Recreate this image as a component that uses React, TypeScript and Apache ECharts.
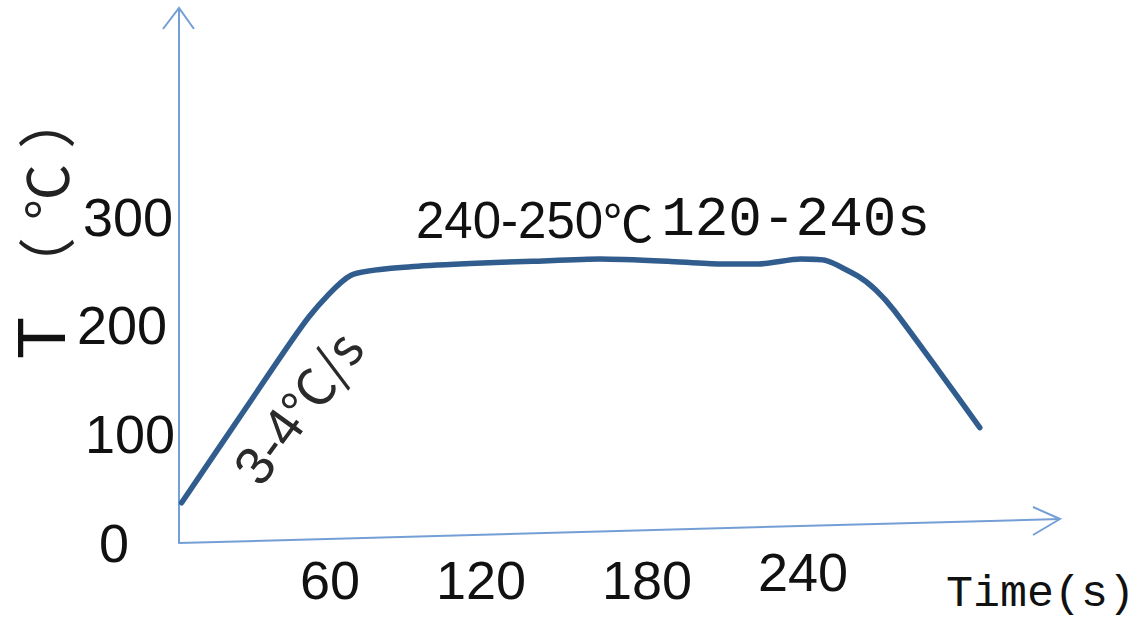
import React, { useEffect, useRef } from "react";
import * as echarts from "echarts";

// ---- data ----
const timeS = [1, 26, 50, 66, 89, 112, 136, 162, 188, 208, 223, 239, 249, 261, 268, 275, 292, 308];
const tempC = [37, 125, 208, 246, 254, 257, 259, 261, 259, 256.5, 256.5, 261, 259.5, 245.5, 232.6, 214, 159, 106];
const xTickLabels = [60, 120, 180, 240];
const yTickLabels = [0, 100, 200, 300];
const xMax = 340;
const yMax = 490;
const yTitleT = "T";
const yTitleOpen = "（";
const yTitleUnit = "℃";
const yTitleClose = "）";
const xTitle = "Time(s)";
const plateauTemp = "240-250";
const plateauUnit = "℃";
const plateauTime = "120-240s";
const rampA = "3-4";
const rampB = "℃/s";

// ---- layout / style ----
const W = 1146;
const H = 618;
const GRID = { left: 179, right: 83, top: 10, bottom: 75 };
const AXIS_COLOR = "#749fd6";
const LINE_COLOR = "#315c8e";
const SANS = "'Liberation Sans', Arial, sans-serif";
const CJK = "'Noto Sans CJK SC', 'Noto Sans CJK JP', sans-serif";
const MONO = "'Liberation Mono', monospace";

// per-label nudges (hand-placed labels in the original)
const yLabelPadRight: Record<number, number> = { 0: 46, 100: 0, 200: 8, 300: 2 };
const xLabelPadRight: Record<number, number> = { 60: 10, 120: 20, 180: 0, 240: 0 };
const xLabelLineHeight: Record<number, number> = { 60: 54, 120: 54, 180: 54, 240: 38 };

function rotatedText(text: string, x: number, y: number, fontFamily: string, fontSize: number, fill: string) {
  return {
    type: "text",
    x,
    y,
    rotation: Math.PI / 2,
    style: { text, fontFamily, fontSize, fill, align: "center", verticalAlign: "middle" },
  };
}

export default function App() {
  const ref = useRef<HTMLDivElement>(null);

  useEffect(() => {
    if (!ref.current) return;
    const chart = echarts.init(ref.current, undefined, { renderer: "svg" });

    const originX = GRID.left;
    const originY = H - GRID.bottom;
    const xEndX = 1060;
    const xEndY = 519;
    const yTopY = 8;

    const yRich: Record<string, any> = {};
    yTickLabels.forEach((v) => {
      yRich["y" + v] = {
        fontFamily: SANS,
        fontSize: 54,
        color: "#111",
        padding: [0, yLabelPadRight[v], 0, 0],
      };
    });
    const xRich: Record<string, any> = {};
    xTickLabels.forEach((v) => {
      xRich["x" + v] = {
        fontFamily: SANS,
        fontSize: 54,
        color: "#111",
        lineHeight: xLabelLineHeight[v],
        padding: [0, xLabelPadRight[v], 0, 0],
      };
    });

    chart.setOption({
      animation: false,
      backgroundColor: "#ffffff",
      grid: { ...GRID, containLabel: false },
      xAxis: {
        type: "value",
        min: 0,
        max: xMax,
        interval: 60,
        axisLine: { show: false },
        axisTick: { show: false },
        splitLine: { show: false },
        axisLabel: {
          margin: 10,
          showMaxLabel: false,
          formatter: (v: number) => (xTickLabels.includes(v) ? `{x${v}|${v}}` : ""),
          rich: xRich,
        },
      },
      yAxis: {
        type: "value",
        min: 0,
        max: yMax,
        interval: 100,
        axisLine: { show: true, lineStyle: { color: AXIS_COLOR, width: 2 } },
        axisTick: { show: false },
        splitLine: { show: false },
        axisLabel: {
          margin: 4,
          showMaxLabel: false,
          formatter: (v: number) => (yTickLabels.includes(v) ? `{y${v}|${v}}` : ""),
          rich: yRich,
        },
      },
      series: [
        {
          type: "line",
          data: timeS.map((t, i) => [t, tempC[i]]),
          smooth: 0.22,
          symbol: "none",
          lineStyle: { color: LINE_COLOR, width: 5.5, cap: "round", join: "round" },
        },
      ],
      graphic: [
        // y-axis arrow head
        {
          type: "polyline",
          shape: { points: [[originX - 16, yTopY + 21], [originX, yTopY], [originX + 15, yTopY + 21]] },
          style: { stroke: AXIS_COLOR, lineWidth: 2, fill: null },
        },
        // x axis (slightly slanted in the original)
        {
          type: "line",
          shape: { x1: originX, y1: originY, x2: xEndX, y2: xEndY },
          style: { stroke: AXIS_COLOR, lineWidth: 2 },
        },
        {
          type: "polyline",
          shape: { points: [[xEndX - 27, xEndY - 12], [xEndX, xEndY], [xEndX - 27, xEndY + 16]] },
          style: { stroke: AXIS_COLOR, lineWidth: 2, fill: null },
        },
        // y title, rotated
        rotatedText(yTitleT, 41, 338, SANS, 68, "#111"),
        rotatedText(yTitleOpen, 44, 266, CJK, 58, "#222"),
        rotatedText(yTitleUnit, 43, 192, CJK, 56, "#222"),
        rotatedText(yTitleClose, 44, 120, CJK, 58, "#222"),
        // x title
        {
          type: "text",
          x: 946,
          y: 594,
          style: {
            text: xTitle,
            fontFamily: MONO,
            fontSize: 45,
            fill: "#111",
            align: "left",
            verticalAlign: "middle",
          },
        },
        // plateau annotation
        {
          type: "text",
          x: 416,
          y: 220,
          style: {
            text: `{a|${plateauTemp}}{b|${plateauUnit}}{c|${plateauTime}}`,
            align: "left",
            verticalAlign: "middle",
            rich: {
              a: { fontFamily: SANS, fontSize: 51, fill: "#111" },
              b: { fontFamily: CJK, fontSize: 50, fill: "#111" },
              c: { fontFamily: MONO, fontSize: 56, fill: "#111", padding: [0, 0, 0, 8] },
            },
          },
        },
        // ramp annotation
        {
          type: "text",
          x: 297,
          y: 407,
          rotation: (54 * Math.PI) / 180,
          style: {
            text: `{a|${rampA}}{b|${rampB}}`,
            align: "center",
            verticalAlign: "middle",
            rich: {
              a: { fontFamily: SANS, fontSize: 54, fill: "#2a2a2a" },
              b: { fontFamily: CJK, fontSize: 52, fill: "#2a2a2a" },
            },
          },
        },
      ],
    });

    return () => chart.dispose();
  }, []);

  return (
    <div
      ref={ref}
      style={{ position: "fixed", left: 0, top: 0, width: W, height: H, background: "#fff" }}
    />
  );
}
